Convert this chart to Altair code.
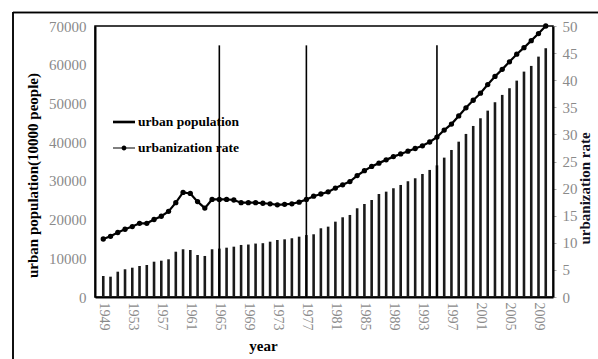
import altair as alt
import pandas as pd

years = list(range(1949, 2011))

urban_population = [
    5430, 5250, 6540, 7160, 7570, 8010, 8270, 9120, 9380, 9740,
    11700, 12330, 12140, 10850, 10600, 12330, 12500, 12740, 13000, 13440,
    13550, 13800, 13900, 14290, 14730, 14900, 15170, 15580, 16000, 16200,
    17750, 18170, 19460, 20590, 21190, 22920, 24030, 25060, 26610, 27210,
    28090, 28940, 29900, 30670, 31780, 32820, 34000, 36000, 37980, 40120,
    42120, 44180, 46170, 48140, 50310, 52200, 53930, 55890, 58220, 59690,
    62090, 64260,
]

urbanization_rate = [
    10.7, 11.2, 11.9, 12.5, 13.0, 13.6, 13.6, 14.3, 14.9, 15.8,
    17.4, 19.3, 19.1, 17.6, 16.4, 18.0, 18.0, 18.0, 17.9, 17.4,
    17.4, 17.4, 17.3, 17.2, 17.0, 17.1, 17.2, 17.5, 18.0, 18.6,
    19.0, 19.4, 20.1, 20.7, 21.3, 22.4, 23.3, 24.1, 24.7, 25.3,
    25.9, 26.4, 26.9, 27.4, 27.9, 28.6, 29.5, 30.8, 31.9, 33.4,
    34.9, 36.3, 37.6, 39.2, 40.7, 42.0, 43.4, 44.8, 46.0, 47.3,
    48.6, 50.0,
]

stage_years = [1965, 1977, 1995]
stage_top = [65000, 65000, 65000]

tick_years = list(range(1949, 2010, 4))
pop_ticks = list(range(0, 70001, 10000))
rate_ticks = list(range(0, 51, 5))

legend_names = ["urban population", "urbanization rate"]

SERIF = "Liberation Serif"
LABEL_GRAY = "#8a8a8a"

df = pd.DataFrame({"year": years, "pop": urban_population, "rate": urbanization_rate})
stage_df = pd.DataFrame({"year": stage_years, "top": stage_top, "base": [0] * len(stage_years)})
legend_df = pd.DataFrame({"series": legend_names})

x_scale = alt.Scale(domain=[1948.55, 2010.31], nice=False, zero=False)
x_axis = alt.Axis(
    title="year", values=tick_years, format="d", labelAngle=90, labelAlign="left",
    labelBaseline="middle", labelFont=SERIF, labelFontSize=14, labelColor=LABEL_GRAY,
    labelPadding=5, labelOverlap=False, ticks=False, grid=False, domainColor="black", domainWidth=2,
    titleFont=SERIF, titleFontSize=15, titleFontWeight="bold", titleColor="black",
    titleX=168, titleY=48, titleBaseline="middle", titleAnchor="start", titleAlign="center",
)

pop_scale = alt.Scale(domain=[0, 70000], nice=False, zero=True)
pop_axis = alt.Axis(
    title="urban population(10000 people)", values=pop_ticks, format="d",
    labelFont=SERIF, labelFontSize=15, labelColor=LABEL_GRAY, labelPadding=9, labelOverlap=False,
    ticks=False, grid=False, domainColor="black", domainWidth=2,
    titleFont=SERIF, titleFontSize=15, titleFontWeight="bold", titleColor="black",
    titleAngle=270, titleX=-63, titleY=149, titleBaseline="middle", titleAlign="center",
)

rate_scale = alt.Scale(domain=[0, 50], nice=False, zero=True)
rate_axis = alt.Axis(
    title="urbanization rate", values=rate_ticks, orient="right",
    labelFont=SERIF, labelFontSize=15, labelColor=LABEL_GRAY, labelPadding=6, labelOverlap=False,
    ticks=True, tickSize=3, tickColor="#aaaaaa", grid=False, domainColor="black", domainWidth=2,
    titleFont=SERIF, titleFontSize=15, titleFontWeight="bold", titleColor="#111122",
    titleAngle=270, titleX=31, titleY=162, titleBaseline="middle", titleAlign="center",
)

bars = alt.Chart(df).mark_bar(size=2.6, color="#1a1a1a").encode(
    x=alt.X("year:Q", scale=x_scale, axis=x_axis),
    y=alt.Y("pop:Q", scale=pop_scale, axis=pop_axis),
)

stages = alt.Chart(stage_df).mark_rule(color="black", strokeWidth=1.6).encode(
    x=alt.X("year:Q", scale=x_scale, axis=x_axis),
    y=alt.Y("base:Q", scale=pop_scale, axis=pop_axis),
    y2="top:Q",
)

left_layer = alt.layer(bars, stages)

rate_line = alt.Chart(df).mark_line(color="black", strokeWidth=2.2).encode(
    x=alt.X("year:Q", scale=x_scale, axis=x_axis),
    y=alt.Y("rate:Q", scale=rate_scale, axis=rate_axis),
)
rate_pts = alt.Chart(df).mark_circle(color="black", size=28, opacity=1).encode(
    x=alt.X("year:Q", scale=x_scale, axis=x_axis),
    y=alt.Y("rate:Q", scale=rate_scale, axis=rate_axis),
)

sym_pop = "M-1,-0.12L1,-0.12L1,0.12L-1,0.12Z"
sym_rate = "M-1,-0.055L1,-0.055L1,0.055L-1,0.055Z M-0.22,0A0.22,0.22,0,1,1,0.22,0A0.22,0.22,0,1,1,-0.22,0Z"

legend_layer = alt.Chart(legend_df).mark_point(filled=True, color="black", opacity=0).encode(
    shape=alt.Shape(
        "series:N",
        scale=alt.Scale(domain=legend_names, range=[sym_pop, sym_rate]),
        legend=alt.Legend(
            title=None, orient="none", legendX=18, legendY=85, padding=0,
            labelFont=SERIF, labelFontSize=13.5, labelFontWeight="bold", labelColor="black",
            symbolSize=484, symbolFillColor="black", symbolStrokeColor="black",
            symbolStrokeWidth=0, symbolOpacity=1, rowPadding=8, labelOffset=3,
        ),
    ),
)

right_layer = alt.layer(rate_line, rate_pts, legend_layer)

frame_left = alt.Chart(legend_df).mark_rule(color="black", strokeWidth=1.5).encode(
    x=alt.value(-82), y=alt.value(-14), y2=alt.value(340)
)
frame_top = alt.Chart(legend_df).mark_rule(color="black", strokeWidth=1.5).encode(
    x=alt.value(-82), x2=alt.value(510), y=alt.value(-13.5)
)

chart = alt.layer(left_layer, right_layer, frame_left, frame_top).resolve_scale(
    y="independent"
).properties(
    width=458, height=271,
    autosize=alt.AutoSizeParams(type="none"),
    padding={"left": 95, "top": 26, "right": 45, "bottom": 62},
    background="white",
).configure_view(
    stroke="black", strokeWidth=1.5
).configure_axis(
    labelOverlap=False, labelBound=False, labelFlush=False
)

chart.save("out.html", embed_options={"renderer": "svg", "actions": False})
